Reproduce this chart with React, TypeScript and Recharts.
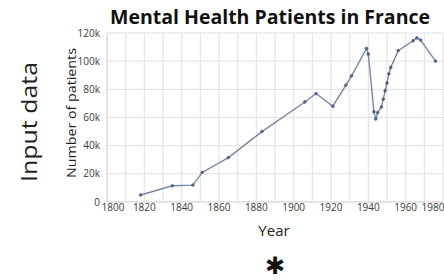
import { LineChart, Line, XAxis, YAxis, CartesianGrid } from "recharts";

const years = [
  1818, 1835, 1846, 1851, 1865, 1883, 1906, 1912, 1921, 1928, 1931, 1939, 1940,
  1943, 1944, 1945, 1947, 1948, 1949, 1950, 1951, 1952, 1956, 1964, 1966, 1968,
  1976,
];
const patients = [
  5000, 11500, 12000, 21000, 31500, 50000, 71000, 77000, 68000, 83000, 89500,
  109000, 105000, 64000, 59000, 63500, 67500, 73000, 79000, 84500, 91000,
  95500, 107500, 114500, 116500, 115000, 100000,
];
const xTicks = [
  1800, 1810, 1820, 1830, 1840, 1850, 1860, 1870, 1880, 1890, 1900, 1910, 1920,
  1930, 1940, 1950, 1960, 1970, 1980,
];
const yTicks = [0, 20000, 40000, 60000, 80000, 100000, 120000];

const data = years.map((year, i) => ({ year, patients: patients[i] }));

const FONT = "'Open Sans', sans-serif";

const YearTick = ({ x, y, payload }: any) => {
  const v = payload.value as number;
  if (v % 20 !== 0) return null;
  const dx = v === 1800 ? 6 : v === 1980 ? -10 : 0;
  return (
    <text
      x={x + dx}
      y={y}
      dy="0.71em"
      textAnchor="middle"
      fontSize={10}
      fontFamily={FONT}
      fill="#3a3a3a"
    >
      {v}
    </text>
  );
};

export default function App() {
  return (
    <div
      style={{
        position: "fixed",
        left: 0,
        top: 0,
        width: 444,
        height: 280,
        background: "#fff",
      }}
    >
      <LineChart
        width={444}
        height={280}
        data={data}
        margin={{ top: 33, right: 1, bottom: 0, left: 0 }}
      >
        <CartesianGrid stroke="#e0e0e0" />
        <XAxis
          dataKey="year"
          type="number"
          domain={[1800, 1980]}
          ticks={xTicks}
          interval={0}
          height={78}
          tickSize={1}
          tickMargin={1}
          tickLine={false}
          axisLine={{ stroke: "#d8d8d8" }}
          tick={<YearTick />}
        />
        <YAxis
          type="number"
          domain={[0, 120000]}
          ticks={yTicks}
          width={107}
          tickSize={4}
          tickMargin={3}
          tickLine={false}
          axisLine={{ stroke: "#d8d8d8" }}
          tick={{ fontSize: 10, fontFamily: FONT, fill: "#3a3a3a" }}
          tickFormatter={(v: number) => (v === 0 ? "0" : `${v / 1000}k`)}
        />
        <Line
          dataKey="patients"
          type="linear"
          stroke="#7587a6"
          strokeWidth={1.4}
          dot={{ r: 1.4, fill: "#4e6183", stroke: "#4e6183", strokeWidth: 0.6 }}
          isAnimationActive={false}
        />
      </LineChart>
      <svg
        width={444}
        height={280}
        style={{ position: "absolute", left: 0, top: 0, pointerEvents: "none" }}
      >
        <text
          x={110}
          y={24}
          textLength={320}
          lengthAdjust="spacingAndGlyphs"
          fontFamily={FONT}
          fontWeight={700}
          fontSize={19}
          fill="#111"
        >
          Mental Health Patients in France
        </text>
        <text
          x={0}
          y={0}
          transform="translate(37,182) rotate(-90)"
          textLength={120}
          lengthAdjust="spacingAndGlyphs"
          fontFamily={FONT}
          fontSize={21}
          fill="#222"
        >
          Input data
        </text>
        <text
          x={0}
          y={0}
          transform="translate(76,178) rotate(-90)"
          textLength={130}
          lengthAdjust="spacingAndGlyphs"
          fontFamily={FONT}
          fontSize={13.5}
          fill="#222"
        >
          Number of patients
        </text>
        <text
          x={274}
          y={236}
          textAnchor="middle"
          fontFamily={FONT}
          fontSize={15}
          fill="#222"
        >
          Year
        </text>
        <text
          x={275}
          y={266}
          textAnchor="middle"
          dominantBaseline="central"
          fontFamily="'DejaVu Sans', sans-serif"
          fontSize={24}
          fill="#111"
        >
          ✱
        </text>
      </svg>
    </div>
  );
}
